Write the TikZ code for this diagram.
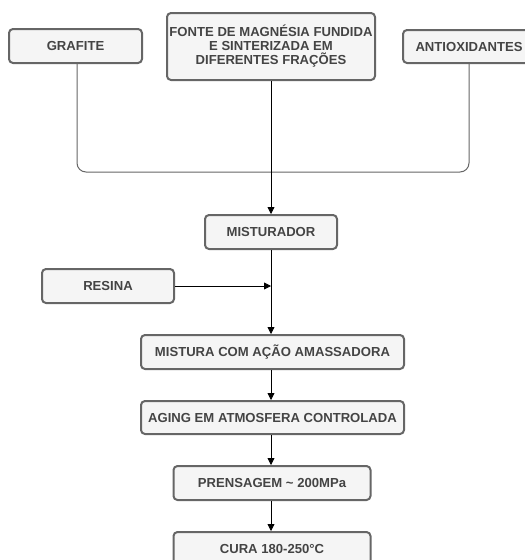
\documentclass[tikz,border=0pt]{standalone}
\usepackage{fontspec}
\setmainfont{Liberation Sans}
\usetikzlibrary{arrows.meta}
\definecolor{boxline}{HTML}{666666}
\definecolor{boxfill}{HTML}{F5F5F5}
\definecolor{boxtext}{HTML}{444444}
\begin{document}
\begin{tikzpicture}[x=1pt,y=-1pt,
  stepbox/.style={draw=boxline,line width=2pt,fill=boxfill,rounded corners=4pt,
    text=boxtext,font=\bfseries\fontsize{13.1}{14}\selectfont,align=center,inner sep=0pt},
  flow/.style={draw=black,line width=0.8pt,-{Triangle[length=7pt,width=7pt]}},
  joinline/.style={draw=boxline,line width=1pt,rounded corners=9pt}]
\clip (0,0) rectangle (525,560);
\useasboundingbox (0,0) rectangle (525,560);

\node[stepbox,minimum width=133pt,minimum height=34pt] (graf) at (75.5,46) {GRAFITE};
\node[stepbox,minimum width=208pt,minimum height=67pt] (fonte) at (271,46.5)
  {FONTE DE MAGNÉSIA FUNDIDA\\E SINTERIZADA EM\\DIFERENTES FRAÇÕES};
\node[stepbox,minimum width=132pt,minimum height=33pt] (anti) at (469,46.5) {ANTIOXIDANTES};

\node[stepbox,minimum width=132pt,minimum height=34pt] (mist) at (271,232) {MISTURADOR};
\node[stepbox,minimum width=132pt,minimum height=34pt] (resina) at (108,286) {RESINA};
\node[stepbox,minimum width=263pt,minimum height=34pt] (amass) at (272.5,352) {MISTURA COM AÇÃO AMASSADORA};
\node[stepbox,minimum width=263pt,minimum height=33pt] (aging) at (272.5,417.5) {AGING EM ATMOSFERA CONTROLADA};
\node[stepbox,minimum width=197pt,minimum height=34pt] (prens) at (272,483) {PRENSAGEM \textasciitilde{} 200MPa};
\node[stepbox,minimum width=197pt,minimum height=34pt] (cura) at (272,549) {CURA 180-250°C};

% bracket joining the three raw materials
\draw[joinline] (graf.south -| 77,0) -- (77,172) -- (469,172) -- (anti.south);

% main flow
\draw[flow] (fonte.south) -- (mist.north);
\coordinate (join) at (mist.south |- resina.east);
\draw[flow] (resina.east) -- (join);
\draw[flow] (mist.south) -- (amass.north -| mist.south);
\draw[flow] (amass.south -| mist.south) -- (aging.north -| mist.south);
\draw[flow] (aging.south -| mist.south) -- (prens.north -| mist.south);
\draw[flow] (prens.south -| mist.south) -- (cura.north -| mist.south);
\end{tikzpicture}
\end{document}
